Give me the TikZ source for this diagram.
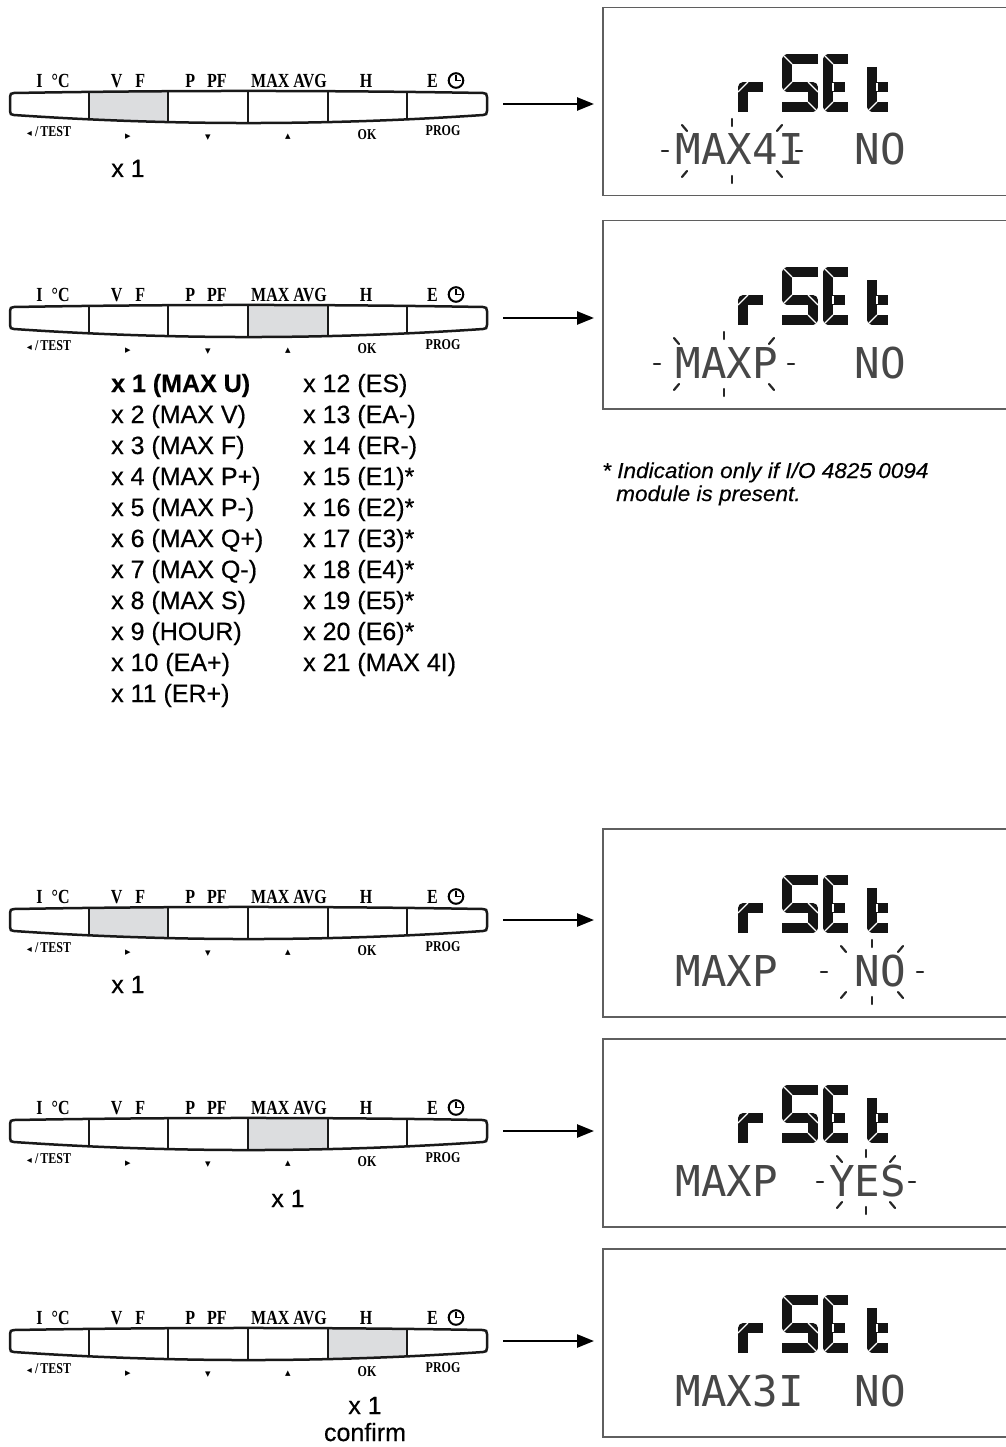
\documentclass[tikz,border=0pt]{standalone}
\usepackage{fontspec}
\setmainfont{Liberation Sans}
\newfontfamily\medfont[FakeBold=0.45]{Liberation Sans}
\newfontfamily\notefont[FakeStretch=1.05,FakeBold=0.3]{Liberation Sans}
\newfontfamily\keyfont[FakeStretch=0.8]{Liberation Serif}
\newfontfamily\symfont{DejaVu Sans}
\newfontfamily\lcdfont{DejaVu Sans Mono}
\usetikzlibrary{arrows.meta}
\definecolor{keygray}{RGB}{220,221,223}
\definecolor{boxgray}{RGB}{95,95,95}
\tikzset{
  keyline/.style={line width=2.5pt, draw=black!90},
  keylab/.style={font=\keyfont\bfseries\fontsize{20}{20}\selectfont, inner sep=0pt, anchor=center},
  keysub/.style={font=\keyfont\bfseries\fontsize{15}{15}\selectfont, inner sep=0pt, anchor=center},
  tri/.style={font=\symfont\fontsize{11}{11}\selectfont, inner sep=0pt, anchor=center},
  lcdbox/.style={draw=boxgray, line width=1.5pt, rectangle, inner sep=0pt, anchor=north west, minimum width=420pt, minimum height=188pt},
  seg/.style={line width=9.5pt, line join=round, line cap=butt, draw=black!92},
  gap/.style={line width=1.3pt, draw=white},
  lcdtext/.style={font=\lcdfont\fontsize{42.5}{42.5}\selectfont, inner sep=0pt, anchor=base west, text=black!72},
  blinkmark/.style={line width=2.2pt, line cap=round, draw=black!85},
  arr/.style={line width=2.5pt, -{Triangle[length=17pt,width=13pt]}},
  big/.style={font=\medfont\fontsize{25}{31}\selectfont, inner sep=0pt, anchor=base west},
  bigc/.style={font=\medfont\fontsize{25}{31}\selectfont, inner sep=0pt, anchor=base},
  note/.style={font=\notefont\itshape\fontsize{21.5}{20}\selectfont, inner sep=0pt, anchor=base west},
}
% #1 id, #2 yc, #3 left x of lit key, #4 right x of lit key
\newcommand\keypad[4]{%
  \begin{scope}[shift={(0,#2)}]
    \begin{scope}
      \clip (14,-11) .. controls (170,-13.7) and (327,-13.7) .. (483,-11)
        .. controls (486,-11) and (487,-10) .. (487,-7) -- (487,7)
        .. controls (487,10) and (486,11) .. (483,11)
        .. controls (327,21.7) and (170,21.7) .. (14,11)
        .. controls (11,11) and (10,10) .. (10,7) -- (10,-7)
        .. controls (10,-10) and (11,-11) .. (14,-11) -- cycle;
      \fill[keygray] (#3,-30) rectangle (#4,30);
      \foreach \dx in {89,168,248,328,407} \draw[keyline] (\dx,-30) -- (\dx,30);
    \end{scope}
    \draw[keyline] (14,-11) .. controls (170,-13.7) and (327,-13.7) .. (483,-11)
        .. controls (486,-11) and (487,-10) .. (487,-7) -- (487,7)
        .. controls (487,10) and (486,11) .. (483,11)
        .. controls (327,21.7) and (170,21.7) .. (14,11)
        .. controls (11,11) and (10,10) .. (10,7) -- (10,-7)
        .. controls (10,-10) and (11,-11) .. (14,-11) -- cycle;
    \coordinate (kp#1) at (487,0);
    \node[keylab] (#1la) at (53,-23) {I\hspace{9pt}°C};
    \node[keylab] (#1lb) at (128,-23) {V\hspace{13pt}F};
    \node[keylab] (#1lc) at (206,-23) {P\hspace{12pt}PF};
    \node[keylab] (#1ld) at (289,-23) {MAX\hspace{4pt}AVG};
    \node[keylab] (#1le) at (366,-23) {H};
    \node[keylab] (#1lf) at (432.5,-23) {E};
    \draw[line width=2pt] (456,-23.5) circle (7.3);
    \draw[line width=1.8pt] (456,-29) -- (456,-23.5) -- (461,-23.5);
    \node[keysub] (#1sa) at (49,28) {{\symfont\fontsize{10}{10}\selectfont ◂}\hspace{3pt}/\hspace{2pt}TEST};
    \node[tri] (#1sb) at (128,32.5) {▸};
    \node[tri] (#1sc) at (208,33.5) {▾};
    \node[tri] (#1sd) at (288,33) {▴};
    \node[keysub] (#1se) at (367,31) {OK};
    \node[keysub] (#1sf) at (443,27) {PROG};
  \end{scope}
}
% #1 id, #2 box top, #3 lower text
\newcommand\lcd[3]{%
  \node[lcdbox] (lcd#1) at (602,#2) {};
  \begin{scope}[shift={(0,#2+47)}]
    \draw[seg] (743,58) -- (743,33) -- (763,33);
    \draw[seg] (818,5) -- (787,5) -- (787,33) -- (813,33) -- (813,53) -- (782,53);
    \draw[seg] (848,5) -- (828,5) -- (828,53) -- (848,53);
    \draw[seg] (828,33) -- (845,33);
    \draw[seg] (872,13) -- (872,53) -- (888,53);
    \draw[seg] (872,33) -- (888,33);
    % segment gaps
    \draw[gap] (748,28) -- (738,38);
    \draw[gap] (792,10) -- (782,0);
    \draw[gap] (792,28) -- (782,38);
    \draw[gap] (808,28) -- (818,38);
    \draw[gap] (808,48) -- (818,58);
    \draw[gap] (833,10) -- (823,0);
    \draw[gap] (833,48) -- (823,58);
    \draw[gap] (833,29) -- (833,37);
    \draw[gap] (877,48) -- (867,58);
    \draw[gap] (877,29) -- (877,37);
  \end{scope}
  \node[lcdtext] (lcdt#1) at (675.5,#2+158) {#3};
}
% #1 cx, #2 cy, #3 half width
\newcommand\blink[3]{%
  \draw[blinkmark] ({#1-#3-3},#2) -- ({#1-#3+3},#2);
  \draw[blinkmark] ({#1+#3-3},#2) -- ({#1+#3+3},#2);
  \draw[blinkmark] (#1,{#2-32}) -- (#1,{#2-25});
  \draw[blinkmark] (#1,{#2+25}) -- (#1,{#2+32});
  \draw[blinkmark] ({#1-#3+22},{#2+20}) -- ({#1-#3+17},{#2+26});
  \draw[blinkmark] ({#1+#3-22},{#2+20}) -- ({#1+#3-17},{#2+26});
  \draw[blinkmark] ({#1-#3+22},{#2-20}) -- ({#1-#3+17},{#2-26});
  \draw[blinkmark] ({#1+#3-22},{#2-20}) -- ({#1+#3-17},{#2-26});
}
\begin{document}
\begin{tikzpicture}[x=1pt,y=-1pt]
  \useasboundingbox[fill=white] (0,0) rectangle (1005,1447);
  % rows
  \keypad{r1}{104}{89}{168}
  \keypad{r2}{318}{248}{328}
  \keypad{r3}{920}{89}{168}
  \keypad{r4}{1131}{248}{328}
  \keypad{r5}{1341}{328}{407}
  % displays
  \lcd{1}{7}{MAX4I\ \ NO}
  \lcd{2}{220}{MAXP\ \ \ NO}
  \lcd{3}{828}{MAXP\ \ \ NO}
  \lcd{4}{1038}{MAXP\ \ YES}
  \lcd{5}{1248}{MAX3I\ \ NO}
  \blink{732}{151}{67}
  \blink{724}{364}{67}
  \blink{872}{972}{48}
  \blink{866}{1182}{46}
  % arrows
  \foreach \k in {1,...,5}
    \draw[arr, shorten <=16pt, shorten >=8pt] (kpr\k) -- (kpr\k -| lcd\k.west);
  % press counts
  \node[bigc] (c1) at (128,177) {x 1};
  \node[bigc] (c3) at (128,993) {x 1};
  \node[bigc] (c4) at (288,1207) {x 1};
  \node[bigc] (c5) at (365,1414) {x 1};
  \node[bigc] (c5b) at (365,1441) {confirm};
  % list
  \foreach \t [count=\i from 0] in {{\textbf{x 1 (MAX U)}},x 2 (MAX V),x 3 (MAX F),x 4 (MAX P+),x 5 (MAX P-),x 6 (MAX Q+),x 7 (MAX Q-),x 8 (MAX S),x 9 (HOUR),x 10 (EA+),x 11 (ER+)}
    \node[big] (la\i) at (111,{392+31*\i}) {\t};
  \foreach \t [count=\i from 0] in {x 12 (ES),x 13 (EA-),x 14 (ER-),x 15 (E1)*,x 16 (E2)*,x 17 (E3)*,x 18 (E4)*,x 19 (E5)*,x 20 (E6)*,x 21 (MAX 4I)}
    \node[big] (lb\i) at (303,{392+31*\i}) {\t};
  % footnote
  \node[note] (n1) at (602,478) {* Indication only if I/O 4825 0094};
  \node[note] (n2) at (616,501) {module is present.};
\end{tikzpicture}
\end{document}
